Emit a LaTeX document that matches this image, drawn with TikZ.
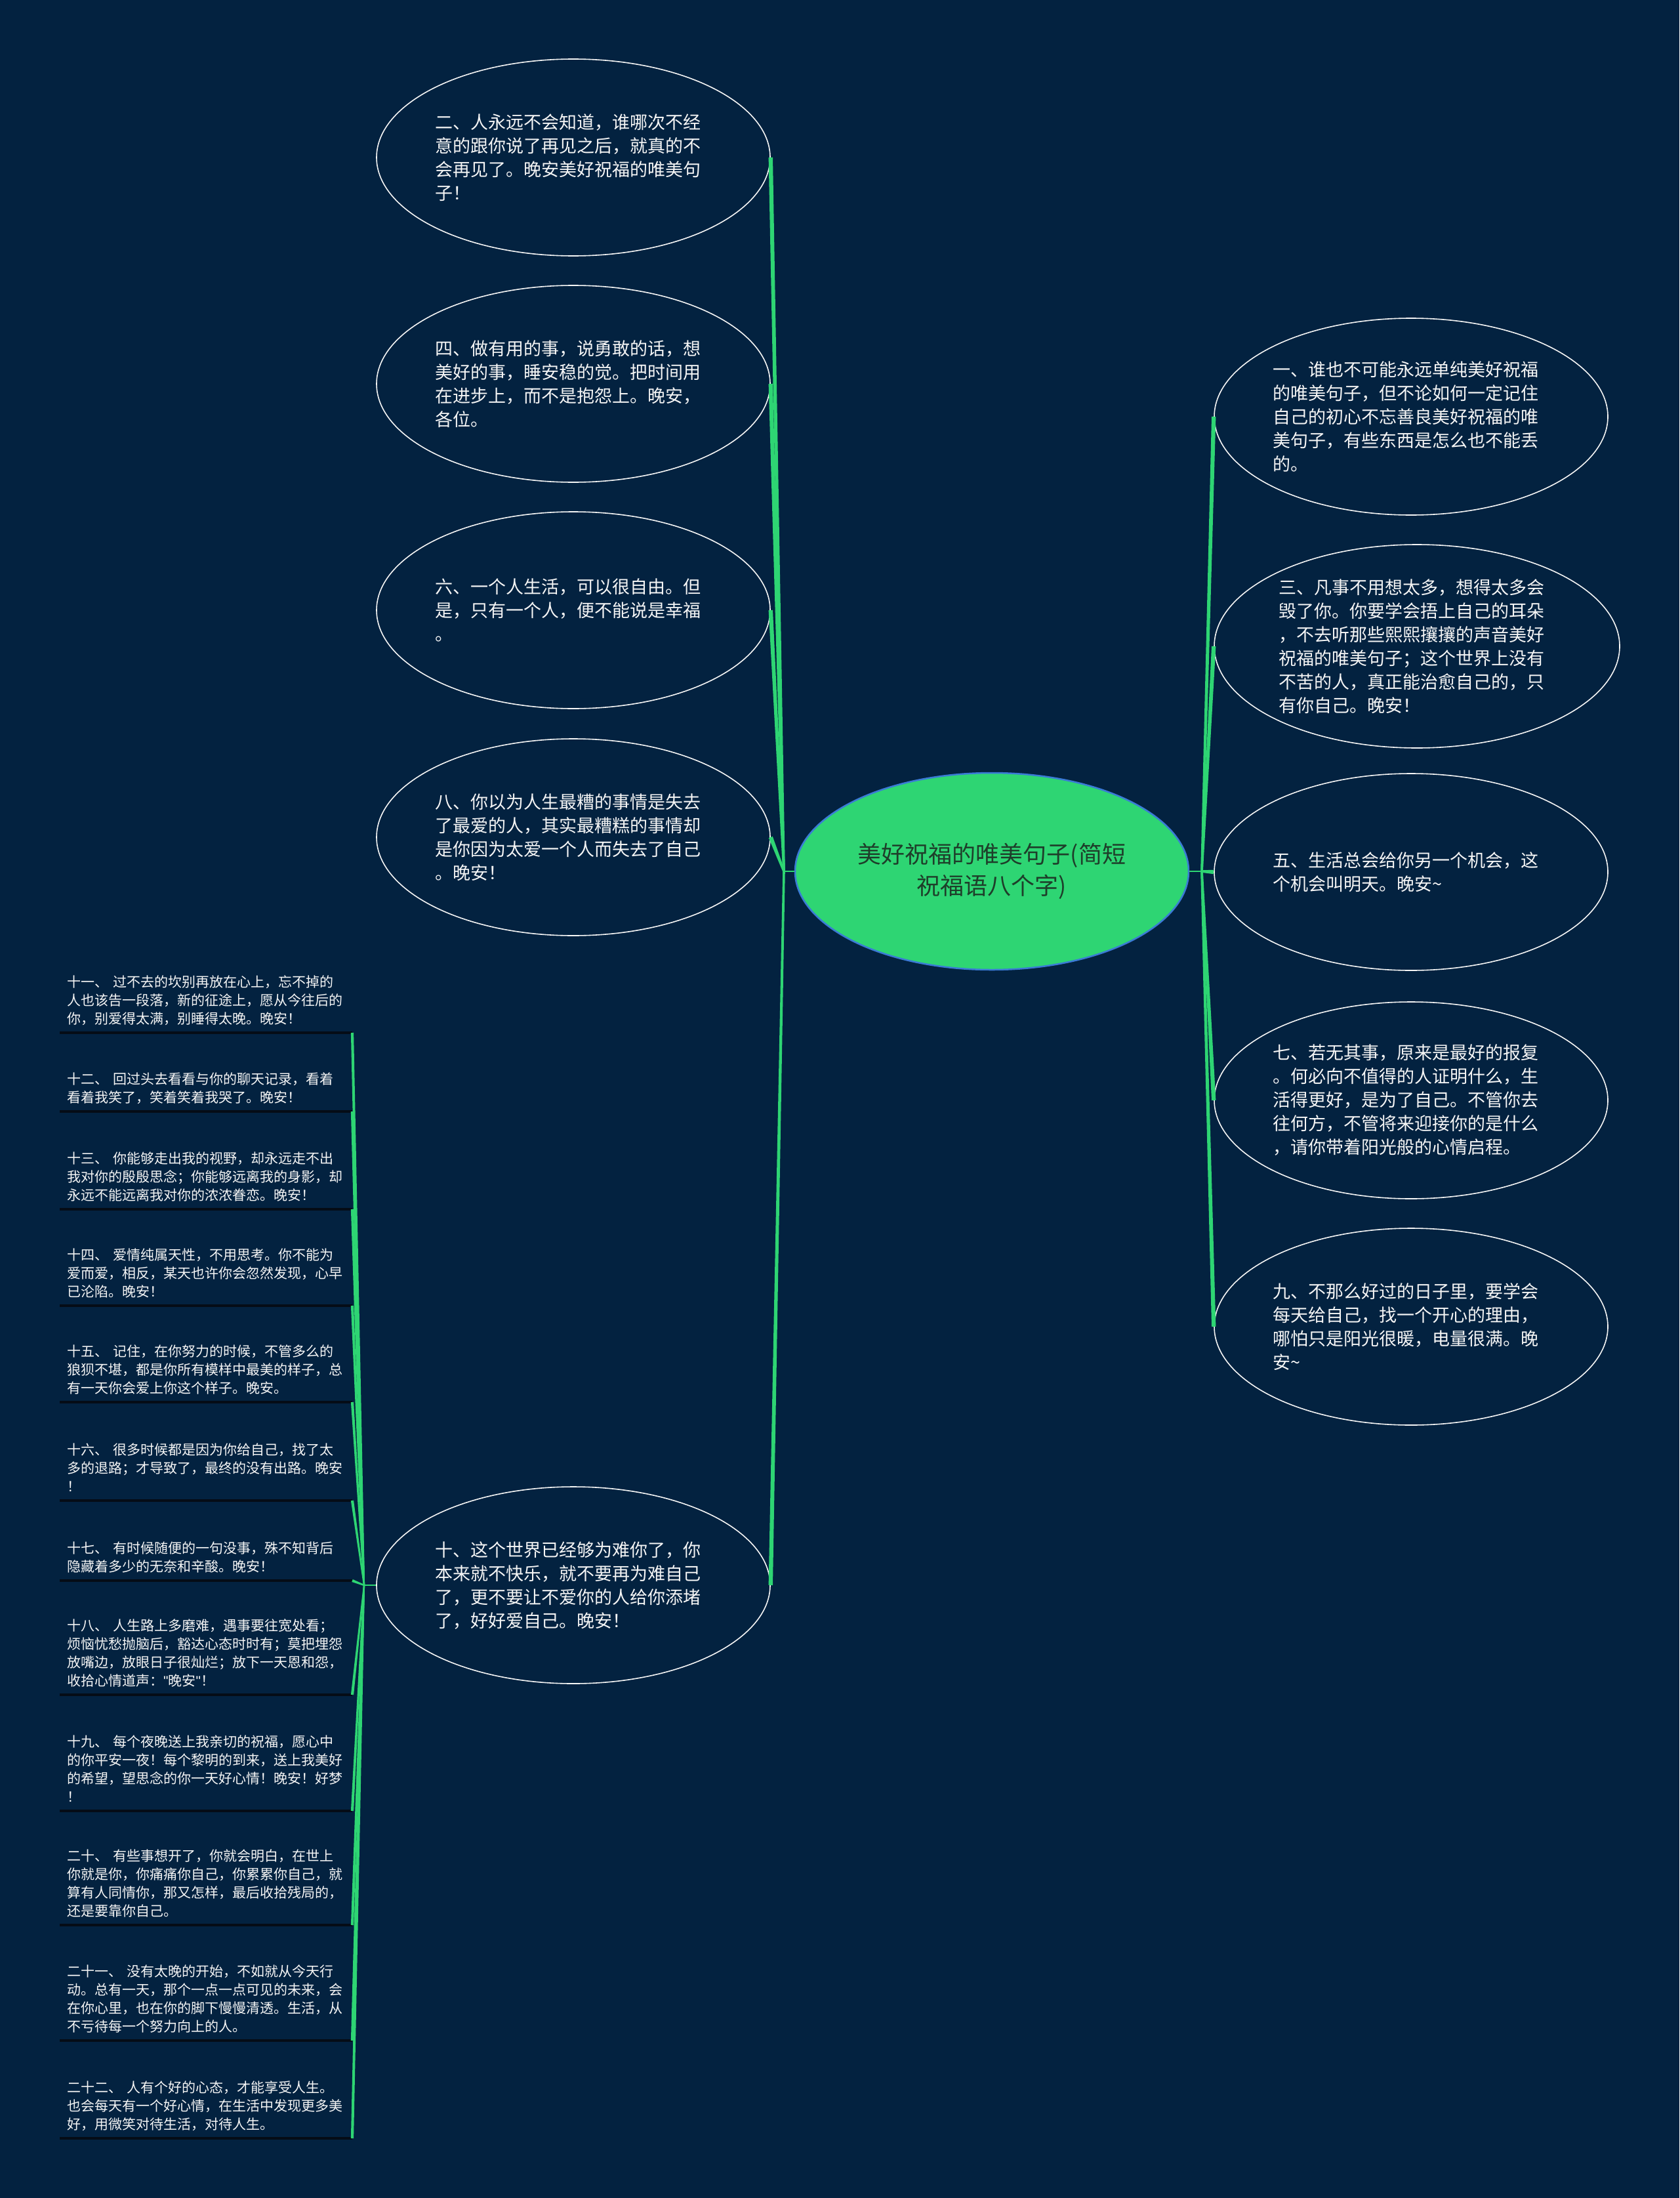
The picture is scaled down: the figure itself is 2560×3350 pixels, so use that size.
\documentclass[tikz,border=0pt]{standalone}
\usepackage{fontspec}
\setmainfont{Noto Sans CJK SC}
\usetikzlibrary{shapes.geometric,calc}
\definecolor{bg}{RGB}{3,34,64}
\definecolor{gr}{RGB}{46,213,115}
\definecolor{edgeblue}{RGB}{58,123,213}
\definecolor{ctext}{RGB}{30,62,42}
\definecolor{wt}{RGB}{245,245,245}
\definecolor{ul}{RGB}{5,12,22}
% tapered connector: from #1 (half width #3) to #2 (half width #4)
\newcommand{\taperline}[4]{%
  \fill[gr] ($(#1)!#3!90:(#2)$) -- ($(#1)!#3!-90:(#2)$) -- ($(#2)!#4!90:(#1)$) -- ($(#2)!#4!-90:(#1)$) -- cycle;}
% list entry: name, underline y, number of lines, text
\newcommand{\lentry}[4]{%
  \node[itemtxt, anchor=base west] (#1) at (102,{#2-14-28*(#3-1)}) {#4};
  \draw[uline] (91,#2) -- (537,#2) coordinate (#1e);}
\begin{document}
\begin{tikzpicture}[x=1pt,y=-1pt,
  bubble/.style={ellipse, draw=wt, line width=1.6pt, fill=bg, minimum width=600pt, minimum height=300pt,
    inner sep=0pt, text=wt, font=\fontsize{27}{36}\selectfont, text width=422pt, align=left},
  itemtxt/.style={inner sep=0pt, text=wt, font=\fontsize{21}{28}\selectfont, text width=423pt, align=left},
  uline/.style={draw=ul, line width=4pt},
  hconn/.style={draw=gr, line width=2.5pt}]
\fill[bg] (0,0) rectangle (2560,3350);
\useasboundingbox (0,0) rectangle (2560,3350);

% center
\node[ellipse, fill=gr, draw=edgeblue, line width=2.5pt, minimum width=600pt, minimum height=300pt,
  inner sep=0pt, text=ctext, font=\fontsize{36}{48}\selectfont, align=center] (c) at (1512,1328)
  {美好祝福的唯美句子(简短\\祝福语八个字)};

% left bubbles
\node[bubble] (n2) at (874,240) {二、人永远不会知道，谁哪次不经\\意的跟你说了再见之后，就真的不\\会再见了。晚安美好祝福的唯美句\\子！};
\node[bubble] (n4) at (874,585) {四、做有用的事，说勇敢的话，想\\美好的事，睡安稳的觉。把时间用\\在进步上，而不是抱怨上。晚安，\\各位。};
\node[bubble] (n6) at (874,930) {六、一个人生活，可以很自由。但\\是，只有一个人，便不能说是幸福\\。};
\node[bubble] (n8) at (874,1276) {八、你以为人生最糟的事情是失去\\了最爱的人，其实最糟糕的事情却\\是你因为太爱一个人而失去了自己\\。晚安！};
\node[bubble] (n10) at (874,2416) {十、这个世界已经够为难你了，你\\本来就不快乐，就不要再为难自己\\了，更不要让不爱你的人给你添堵\\了，好好爱自己。晚安！};

% right bubbles
\node[bubble] (n1) at (2151,635) {一、谁也不可能永远单纯美好祝福\\的唯美句子，但不论如何一定记住\\自己的初心不忘善良美好祝福的唯\\美句子，有些东西是怎么也不能丢\\的。};
\node[bubble, minimum width=618pt, minimum height=310pt] (n3) at (2160,985) {三、凡事不用想太多，想得太多会\\毁了你。你要学会捂上自己的耳朵\\，不去听那些熙熙攘攘的声音美好\\祝福的唯美句子；这个世界上没有\\不苦的人，真正能治愈自己的，只\\有你自己。晚安！};
\node[bubble] (n5) at (2151,1329) {五、生活总会给你另一个机会，这\\个机会叫明天。晚安\textasciitilde};
\node[bubble] (n7) at (2151,1677) {七、若无其事，原来是最好的报复\\。何必向不值得的人证明什么，生\\活得更好，是为了自己。不管你去\\往何方，不管将来迎接你的是什么\\，请你带着阳光般的心情启程。};
\node[bubble] (n9) at (2151,2022) {九、不那么好过的日子里，要学会\\每天给自己，找一个开心的理由，\\哪怕只是阳光很暖，电量很满。晚\\安\textasciitilde};

% list entries
\lentry{i11}{1574}{3}{十一、 过不去的坎别再放在心上，忘不掉的\\人也该告一段落，新的征途上，愿从今往后的\\你，别爱得太满，别睡得太晚。晚安！}
\lentry{i12}{1694}{2}{十二、 回过头去看看与你的聊天记录，看着\\看着我笑了，笑着笑着我哭了。晚安！}
\lentry{i13}{1843}{3}{十三、 你能够走出我的视野，却永远走不出\\我对你的殷殷思念；你能够远离我的身影，却\\永远不能远离我对你的浓浓眷恋。晚安！}
\lentry{i14}{1990}{3}{十四、 爱情纯属天性，不用思考。你不能为\\爱而爱，相反，某天也许你会忽然发现，心早\\已沦陷。晚安！}
\lentry{i15}{2137}{3}{十五、 记住，在你努力的时候，不管多么的\\狼狈不堪，都是你所有模样中最美的样子，总\\有一天你会爱上你这个样子。晚安。}
\lentry{i16}{2287}{3}{十六、 很多时候都是因为你给自己，找了太\\多的退路；才导致了，最终的没有出路。晚安\\！}
\lentry{i17}{2409}{2}{十七、 有时候随便的一句没事，殊不知背后\\隐藏着多少的无奈和辛酸。晚安！}
\lentry{i18}{2583}{4}{十八、 人生路上多磨难，遇事要往宽处看；\\烦恼忧愁抛脑后，豁达心态时时有；莫把埋怨\\放嘴边，放眼日子很灿烂；放下一天恩和怨，\\收拾心情道声：{\fontspec{Liberation Sans}\symbol{34}}晚安{\fontspec{Liberation Sans}\symbol{34}}！}
\lentry{i19}{2760}{4}{十九、 每个夜晚送上我亲切的祝福，愿心中\\的你平安一夜！每个黎明的到来，送上我美好\\的希望，望思念的你一天好心情！晚安！好梦\\！}
\lentry{i20}{2934}{4}{二十、 有些事想开了，你就会明白，在世上\\你就是你，你痛痛你自己，你累累你自己，就\\算有人同情你，那又怎样，最后收拾残局的，\\还是要靠你自己。}
\lentry{i21}{3110}{4}{二十一、 没有太晚的开始，不如就从今天行\\动。总有一天，那个一点一点可见的未来，会\\在你心里，也在你的脚下慢慢清透。生活，从\\不亏待每一个努力向上的人。}
\lentry{i22}{3259}{3}{二十二、 人有个好的心态，才能享受人生。\\也会每天有一个好心情，在生活中发现更多美\\好，用微笑对待生活，对待人生。}

% junctions
\coordinate (jl) at (1195,1328);
\coordinate (jr) at (1832,1328);
\coordinate (jh) at (555,2416);

% main connectors
\draw[hconn] (c.west) -- (jl);
\draw[hconn] (c.east) -- (jr);
\foreach \n in {n2,n4,n6,n8,n10} {\taperline{jl}{\n.east}{1.8pt}{3.2pt}}
\foreach \n in {n1,n3,n5,n7,n9} {\taperline{jr}{\n.west}{1.8pt}{3.2pt}}

% list connectors
\draw[hconn, line width=2pt] (n10.west) -- (jh);
\foreach \n in {i11e,i12e,i13e,i14e,i15e,i16e,i17e,i18e,i19e,i20e,i21e,i22e} {\taperline{jh}{\n}{1.1pt}{2.1pt}}
\end{tikzpicture}
\end{document}
